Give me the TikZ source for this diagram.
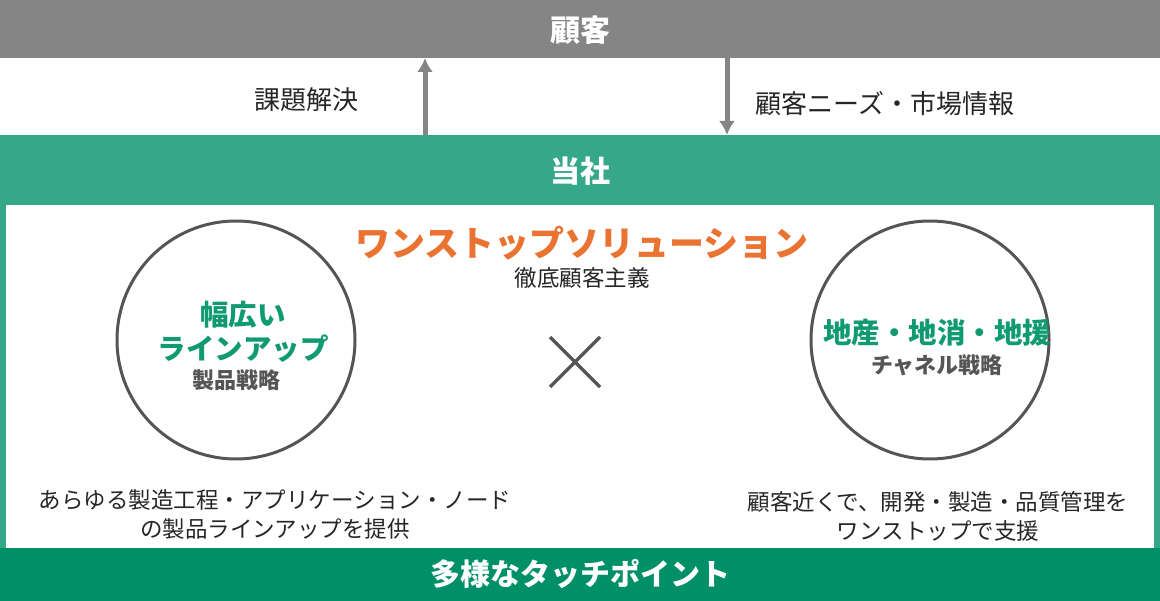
\documentclass[tikz,border=0pt]{standalone}
\usepackage{fontspec}
\setmainfont{Noto Sans CJK JP}
\usetikzlibrary{arrows.meta}
\definecolor{gbar}{HTML}{858585}
\definecolor{gfrm}{HTML}{36A88A}
\definecolor{gdark}{HTML}{009068}
\definecolor{org}{HTML}{EB7332}
\definecolor{tgreen}{HTML}{109A72}
\definecolor{circ}{HTML}{555555}
\begin{document}
\begin{tikzpicture}[x=1pt,y=-1pt,
  bar/.style={font=\fontsize{30}{34}\selectfont\bfseries, text=white},
  body/.style={font=\fontsize{22.5}{29}\selectfont, text=black!85, align=center},
  top/.style={font=\fontsize{26}{30}\selectfont, text=black!85},
  arr/.style={gbar, line width=5pt, -{Latex[length=14pt,width=16pt]}},
  ring/.style={circle, draw=circ, line width=3pt, minimum size=238pt, inner sep=0pt}]
\useasboundingbox (0,0) rectangle (1160,601);
\fill[white] (0,0) rectangle (1160,601);
\fill[gbar] (0,0) rectangle (1160,58);
\fill[gfrm] (0,135) rectangle (1160,548);
\fill[white] (6,205) rectangle (1154,548);
\fill[gdark] (0,548) rectangle (1160,601);
\node[bar] (kokyaku) at (580,30) {顧客};
\node[bar] (tousha) at (580,171) {当社};
\node[bar] (touch) at (580,574) {多様なタッチポイント};
\coordinate (upS) at (425,135); \coordinate (upE) at (425,58);
\coordinate (dnS) at (727,58); \coordinate (dnE) at (727,135);
\draw[arr] (upS) -- (upE);
\draw[arr] (dnS) -- (dnE);
\node[top, anchor=east] (kadai) at (362,100) {課題解決};
\node[top, anchor=west] (needs) at (752,104) {顧客ニーズ・市場情報};
\node[font=\fontsize{35}{40}\selectfont\bfseries, text=org] (one) at (582,243) {ワンストップソリューション};
\node[body] (tettei) at (582,278) {徹底顧客主義};
\node[ring] (lc) at (236,340) {};
\node[ring] (rc) at (930,340) {};
\node[align=center, text=tgreen, font=\fontsize{28.5}{34}\selectfont\bfseries] (lt) at (243,332) {幅広い\\ラインアップ};
\node[text=circ, font=\fontsize{22}{26}\selectfont\bfseries] (ls) at (236,380) {製品戦略};
\node[text=tgreen, font=\fontsize{28.5}{34}\selectfont\bfseries] (rt) at (937,333) {地産・地消・地援};
\node[text=circ, font=\fontsize{22}{26}\selectfont\bfseries] (rs) at (937,365) {チャネル戦略};
\coordinate (x1) at (550,337); \coordinate (x2) at (600,387);
\coordinate (x3) at (600,337); \coordinate (x4) at (550,387);
\draw[circ, line width=3.5pt] (x1) -- (x2) (x3) -- (x4);
\node[body] (lb) at (275,514) {あらゆる製造工程・アプリケーション・ノード\\の製品ラインアップを提供};
\node[body] (rb) at (938,516) {顧客近くで、開発・製造・品質管理を\\ワンストップで支援};
\end{tikzpicture}
\end{document}
